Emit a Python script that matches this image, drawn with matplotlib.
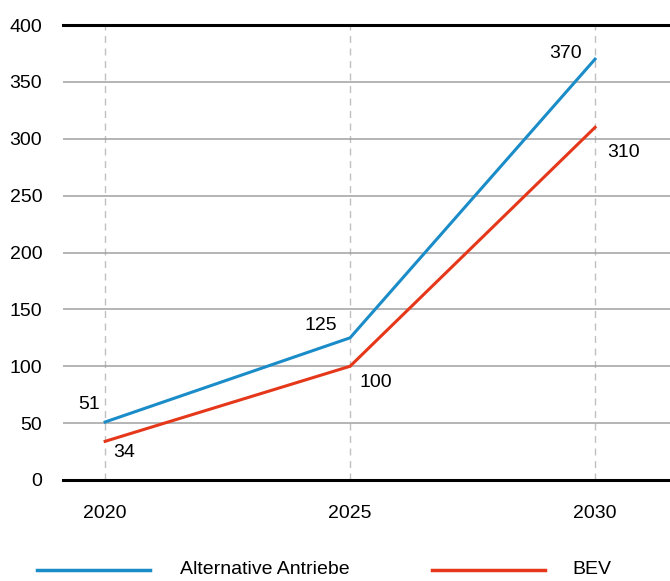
import matplotlib
matplotlib.use("Agg")
import matplotlib.pyplot as plt
from matplotlib.lines import Line2D

plt.rcParams['font.family'] = ['Liberation Sans', 'DejaVu Sans']

years = [2020, 2025, 2030]
alternative = [51, 125, 370]
bev = [34, 100, 310]
series_names = ["Alternative Antriebe", "BEV"]
y_ticks = [0, 50, 100, 150, 200, 250, 300, 350, 400]

BLUE = "#1a8cc8"
RED = "#e5381a"

W, H = 670, 581
fig = plt.figure(figsize=(W / 100, H / 100), dpi=100)
ax = fig.add_axes([63 / W, (H - 480) / H, (W - 63) / W, 455 / H])

ax.set_xlim(2019.14, 2031.53)
ax.set_ylim(0, 400)
ax.set_xticks(years)
ax.set_yticks(y_ticks)
ax.tick_params(axis='both', length=0, labelsize=14, colors='black')
ax.tick_params(axis='y', pad=15)
ax.tick_params(axis='x', pad=18)

for s in ['left', 'right']:
    ax.spines[s].set_visible(False)
for s in ['top', 'bottom']:
    ax.spines[s].set_color('black')
    ax.spines[s].set_linewidth(2.2)

ax.yaxis.grid(True, color='#a0a0a0', linewidth=1.1)
ax.xaxis.grid(True, color='#c0c0c0', linewidth=1.0, linestyle=(0, (5, 4)))
ax.set_axisbelow(True)

ax.plot(years, alternative, color=BLUE, linewidth=2.2, zorder=3)
ax.plot(years, bev, color=RED, linewidth=2.2, zorder=3)

# value labels: (series, index, x offset px, y offset px, alignment)
label_specs = [
    (alternative, 0, -5, 17, 'right'),
    (bev, 0, 8, -11, 'left'),
    (alternative, 1, -13, 12, 'right'),
    (bev, 1, 9, -16, 'left'),
    (alternative, 2, -13, 6, 'right'),
    (bev, 2, 12, -25, 'left'),
]
for vals, i, dx, dy, ha in label_specs:
    ax.annotate(str(vals[i]), (years[i], vals[i]), xytext=(dx, dy),
                textcoords='offset pixels', ha=ha, va='center', fontsize=14)

# legend row under the chart
leg_y = 1 - 570 / H
for (x0, x1, tx), color, name in zip([(37, 150, 180), (432, 545, 572)], [BLUE, RED], series_names):
    fig.add_artist(Line2D([x0 / W, x1 / W], [leg_y, leg_y], color=color, linewidth=2.5,
                          transform=fig.transFigure))
    fig.text(tx / W, leg_y, name, ha='left', va='center', fontsize=14)

fig.savefig("out.png", dpi=100)
